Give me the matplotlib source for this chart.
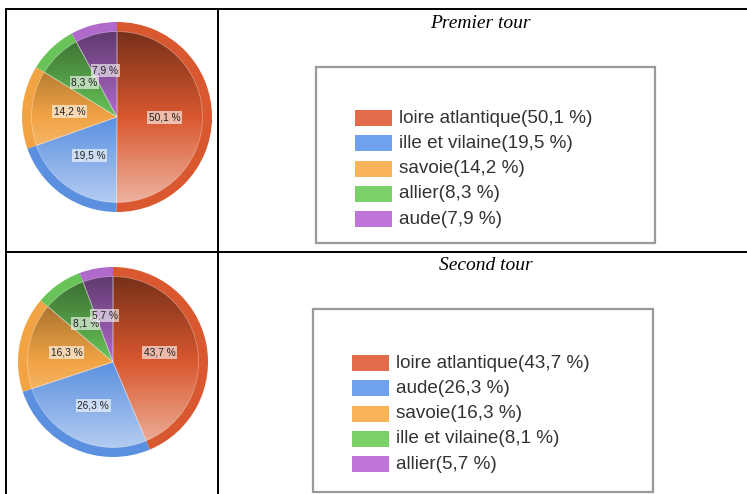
import numpy as np
import matplotlib
matplotlib.use("Agg")
import matplotlib.pyplot as plt
from matplotlib.colors import to_rgb
from matplotlib.patches import Wedge, Rectangle

# ---- data -------------------------------------------------------------
titles = ["Premier tour", "Second tour"]
labels_t1 = ["loire atlantique", "ille et vilaine", "savoie", "allier", "aude"]
values_t1 = [50.1, 19.5, 14.2, 8.3, 7.9]
labels_t2 = ["loire atlantique", "aude", "savoie", "ille et vilaine", "allier"]
values_t2 = [43.7, 26.3, 16.3, 8.1, 5.7]

# slice colours (by rank), rim tone and lighter legend swatch tone
rim_colors = ["#d9582f", "#5b90e0", "#f2a444", "#68c458", "#b06acb"]
swatch_colors = ["#e26b4b", "#70a1ee", "#f9b45a", "#79d168", "#bf74d9"]

W, H = 747, 494
fig = plt.figure(figsize=(W / 100, H / 100), dpi=100)
bg = fig.add_axes([0, 0, 1, 1])
bg.set_xlim(0, W)
bg.set_ylim(H, 0)
bg.axis("off")

# ---- table grid -------------------------------------------------------
lw = 1.4
bg.plot([6, W], [9.5, 9.5], color="black", lw=lw)
bg.plot([6, W], [252, 252], color="black", lw=lw)
bg.plot([6, 6], [9.5, H], color="black", lw=lw)
bg.plot([218, 218], [9.5, H], color="black", lw=lw)


def fmt(v):
    return f"{v:.1f}".replace(".", ",") + " %"


def shade(c, t):
    """t in [-1, 1]: negative darkens, positive lightens."""
    c = np.array(to_rgb(c))
    if t < 0:
        return c * (1 + 0.5 * t)
    return c + (1 - c) * 0.6 * t


def draw_pie(cx, cy, r, values):
    size = 2.1 * r
    ax = fig.add_axes([(cx - size / 2) / W, 1 - (cy + size / 2) / H, size / W, size / H])
    wedges, _ = ax.pie(values, colors=rim_colors, startangle=90, counterclock=False,
                       radius=1.0, wedgeprops=dict(linewidth=0))
    n = 200
    tvals = np.linspace(-1, 1, n)  # top (dark) -> bottom (light)
    for w, col, v in zip(wedges, rim_colors, values):
        inner = Wedge((0, 0), 0.9, w.theta1, w.theta2, facecolor="none",
                      edgecolor=(1, 1, 1, 0.35), linewidth=0.6)
        ax.add_patch(inner)
        grad = np.array([shade(col, t) for t in tvals])[:, None, :]
        im = ax.imshow(grad, extent=[-1, 1, -1, 1], origin="upper",
                       aspect="auto", interpolation="bilinear", zorder=2)
        im.set_clip_path(inner)
        inner.set_zorder(3)
        mid = np.deg2rad((w.theta1 + w.theta2) / 2)
        ax.text(0.5 * np.cos(mid), 0.5 * np.sin(mid), fmt(v), ha="center", va="center",
                fontsize=7.3, family="Liberation Sans", color="#222222", zorder=5,
                bbox=dict(boxstyle="square,pad=0.15", facecolor="white",
                          alpha=0.6, edgecolor="none"))
    ax.set_xlim(-1.05, 1.05)
    ax.set_ylim(-1.05, 1.05)
    ax.set_aspect("equal")
    ax.axis("off")
    return ax


def draw_legend(x0, y0, x1, y1, first_y, labels, values):
    bg.add_patch(Rectangle((x0, y0), x1 - x0, y1 - y0, facecolor="white",
                           edgecolor="#9a9a9a", lw=1.6))
    sx = x0 + 39
    for i, (lab, v) in enumerate(zip(labels, values)):
        yc = first_y + i * 25.3
        bg.add_patch(Rectangle((sx, yc - 8), 37, 16, facecolor=swatch_colors[i],
                               edgecolor="none"))
        bg.text(sx + 44, yc, f"{lab}({fmt(v)})", ha="left", va="center",
                fontsize=13.6, family="Liberation Sans", color="#333333")


draw_pie(117, 117, 95, values_t1)
draw_pie(113, 362, 95, values_t2)

bg.text(480, 23, titles[0], ha="center", va="center", fontsize=14,
        family="Liberation Serif", style="italic")
bg.text(486, 265, titles[1], ha="center", va="center", fontsize=14,
        family="Liberation Serif", style="italic")

draw_legend(316, 67, 655, 243, 118, labels_t1, values_t1)
draw_legend(313, 309, 653, 492, 363, labels_t2, values_t2)

fig.savefig("out.png", dpi=100)
